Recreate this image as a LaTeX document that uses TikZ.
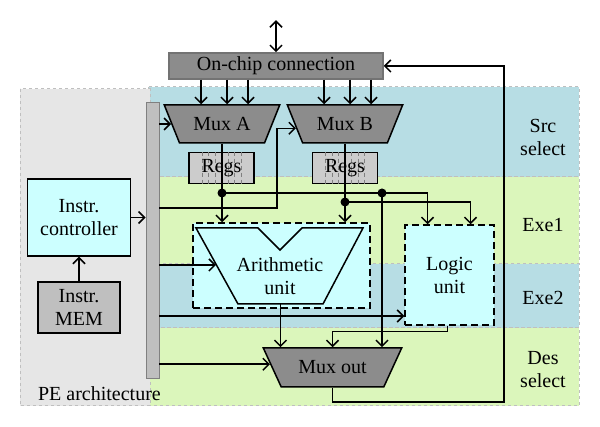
\documentclass[tikz,border=0pt]{standalone}
\usepackage{fontspec}
\setmainfont{Liberation Serif}
\usetikzlibrary{arrows.meta, shapes.geometric, calc}

\definecolor{stageblue}{RGB}{183,221,228}
\definecolor{stagegreen}{RGB}{219,246,187}
\definecolor{unitcyan}{RGB}{204,255,255}
\definecolor{muxgray}{RGB}{140,140,140}
\definecolor{pegray}{RGB}{230,230,230}

\begin{document}
\begin{tikzpicture}[x = 1pt, y = -1pt, > = {Straight Barb[length=6pt, width=12pt]},
	line width = 1.5pt, font = \fontsize{20}{23}\selectfont,
	box/.style = {draw, inner sep = 0pt, align = center},
	unitbox/.style = {box, fill = unitcyan, dash pattern = on 7pt off 4pt},
	mux/.style = {draw, fill = muxgray, trapezium, shape border rotate = 180,
		trapezium stretches = true, inner sep = 0pt, minimum height = 38pt},
	band/.style = {draw = gray!50, line width = 1pt, dashed}]

	\useasboundingbox (0, 0) rectangle (600, 427);

	% Stage bands

	\draw [band, fill = stageblue] (148, 87) rectangle (579, 177);
	\draw [band, fill = stagegreen] (148, 177) rectangle (579, 264);
	\draw [band, fill = stageblue] (148, 264) rectangle (579, 328);
	\draw [band, fill = stagegreen] (148, 328) rectangle (579, 406);
	\draw [band, fill = pegray] (20, 89) rectangle (150, 406);

	\node [align = center] (src) at (543, 137) {Src\\select};
	\node (exe1) at (543, 225) {Exe1};
	\node (exe2) at (543, 298) {Exe2};
	\node [align = center] (des) at (543, 370) {Des\\select};
	\node [anchor = west] (pe) at (34, 394) {PE architecture};

	% Blocks

	\node [draw = gray, fill = black!25, line width = 0.8pt, inner sep = 0pt,
		minimum width = 13pt, minimum height = 276pt] (bus) at (152.5, 240) {};
	\node [box, fill = unitcyan, minimum width = 103pt, minimum height = 77pt] (ctrl) at (79, 217.5) {Instr.\\controller};
	\node [box, fill = black!25, minimum width = 82pt, minimum height = 51pt] (mem) at (79, 307.5) {Instr.\\MEM};
	\node [box, fill = muxgray, draw = black!55, minimum width = 214pt, minimum height = 26pt] (chip) at (276, 66) {On-chip connection};

	\node [mux, minimum width = 116pt, trapezium left angle = 52.6, trapezium right angle = 52.6] (muxA) at (222, 124) {Mux A};
	\node [mux, minimum width = 116pt, trapezium left angle = 52.6, trapezium right angle = 52.6] (muxB) at (345, 124) {Mux B};
	\node [mux, minimum width = 139pt, minimum height = 39pt, trapezium left angle = 48, trapezium right angle = 48] (muxout) at (332.5, 367.5) {Mux out};

	\foreach \r/\x in {regA/221.5, regB/345} {
		\node [box, fill = black!20, minimum width = 65pt, minimum height = 31pt] (\r) at (\x, 168) {};
		\foreach \dx in {-19.5, -13, -6.5, 6.5, 13, 19.5}
			\draw [gray, line width = 0.8pt, dash pattern = on 4pt off 3pt] ([xshift = \dx pt] \r.north) -- ([xshift = \dx pt] \r.south);
		\node (\r-text) at (\r) {Regs};
	}

	\node [unitbox, minimum width = 177pt, minimum height = 85pt] (arithbox) at (281.5, 265.5) {};
	\draw [fill = unitcyan] (196, 228) -- (258, 228) -- (280, 250) -- (302, 228) -- (363, 228)
		-- (323, 304) -- (238, 304) coordinate [pos = 0.5] (aluout) -- cycle;
	\coordinate (aluin) at (216, 265);
	\node [align = center] (arith) at (280, 276) {Arithmetic\\unit};
	\node [unitbox, minimum width = 89pt, minimum height = 100pt] (logic) at (449.5, 275) {Logic\\unit};

	% Source select

	\draw [<->] (chip.north) -- ++(0, -32);
	\foreach \m in {muxA, muxB}
		\foreach \dx in {-21, 5, 26} {
			\coordinate (in) at ($(\m.north) + (\dx, 0)$);
			\draw [->] (in |- chip.south) -- (in);
		}

	\draw [->] (bus.east |- muxA.west) -- (muxA.west);
	\draw [->] (bus.east |- 0, 208) -- (277, 208) |- (muxB.185);
	\draw [->] (ctrl.east) -- (ctrl.east -| bus.west);
	\draw [->] (mem) -- (ctrl);

	% Execute

	\coordinate (dA) at (muxA.south |- 0, 193);
	\coordinate (dB) at (muxB.south |- 0, 202);
	\coordinate (dC) at (382, 193);

	\draw [->] (muxA.south) -- (muxA.south |- arithbox.north);
	\draw [->] (muxB.south) -- (muxB.south |- arithbox.north);
	\draw [->] (dA) -| ([xshift = -22pt] logic.north);
	\draw [->] (dB) -| ([xshift = 21pt] logic.north);
	\draw [->] (dC) -- (dC |- muxout.north);
	\foreach \d in {dA, dB, dC}
		\fill (\d) circle (4.5pt);

	\draw [->] (bus.east |- aluin) -- (aluin);
	\draw [->] (bus.east |- 0, 316) -- (logic.west |- 0, 316);

	% Destination select

	\draw [->] (aluout) -- (aluout |- muxout.north);
	\draw [->] ([xshift = -2pt] logic.south) -- ++(0, 6) -| (muxout.north);
	\draw [->] (bus.east |- muxout.177) -- (muxout.177);
	\draw [->] (muxout.south) -- ++(0, 14) -| ($(chip.east) + (120, 0)$) -- (chip.east);

\end{tikzpicture}
\end{document}
